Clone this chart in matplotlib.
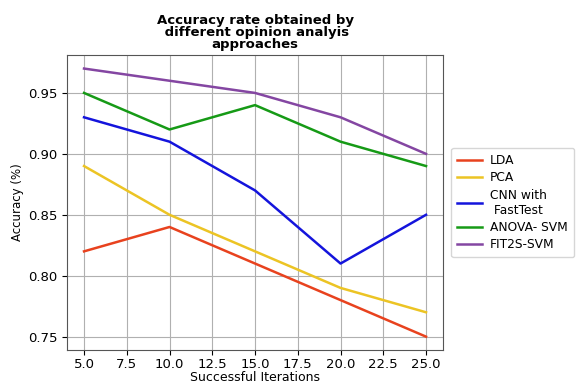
import matplotlib
matplotlib.use("Agg")
import matplotlib.pyplot as plt

iterations = [5, 10, 15, 20, 25]
lda = [0.82, 0.84, 0.81, 0.78, 0.75]
pca = [0.89, 0.85, 0.82, 0.79, 0.77]
cnn_fasttest = [0.93, 0.91, 0.87, 0.81, 0.85]
anova_svm = [0.95, 0.92, 0.94, 0.91, 0.89]
fit2s_svm = [0.97, 0.96, 0.95, 0.93, 0.90]

labels = ["LDA", "PCA", "CNN with\n FastTest", "ANOVA- SVM", "FIT2S-SVM"]
colors = ["#e8421e", "#ecc424", "#1414dc", "#169a16", "#8446a2"]

fig = plt.figure(figsize=(5.77, 3.83), dpi=100)
ax = fig.add_axes([0.116, 0.086, 0.652, 0.77])

for series, lab, col in zip([lda, pca, cnn_fasttest, anova_svm, fit2s_svm], labels, colors):
    ax.plot(iterations, series, color=col, linewidth=1.8, label=lab)

ax.grid(True, color="#b0b0b0", linewidth=0.8)
ax.tick_params(labelsize=9.5)
ax.tick_params(axis="x", pad=2)
ax.set_xlabel("Successful Iterations", fontsize=9, labelpad=0)
ax.set_ylabel("Accuracy (%)", fontsize=8.5, labelpad=3)
ax.set_title("Accuracy rate obtained by\n different opinion analyis\napproaches",
             fontsize=9.5, fontweight="bold", linespacing=0.9, pad=5)
for s in ax.spines.values():
    s.set_color("#555555")

ax.legend(loc="center left", bbox_to_anchor=(1.005, 0.5), fontsize=8.8,
          handlelength=2.0, labelspacing=0.35, borderpad=0.5, handletextpad=0.7)

fig.savefig("out.png", dpi=100)
